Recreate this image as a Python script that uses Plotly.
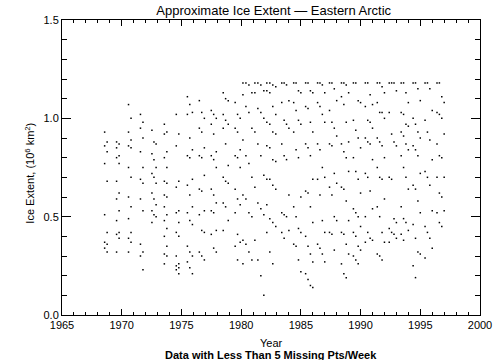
import plotly.graph_objects as go

# ---------------- data ----------------
years = list(range(1968, 1997))

# weekly ice-extent samples per year (10^6 km^2)
v1968 = [0.93, 0.88, 0.86, 0.83, 0.77, 0.68, 0.51, 0.42, 0.37, 0.36, 0.34, 0.32]
v1969 = [0.88, 0.87, 0.85, 0.81, 0.80, 0.77, 0.68, 0.62, 0.59, 0.53, 0.48, 0.42, 0.41, 0.39, 0.32]
v1970 = [1.07, 1.00, 0.93, 0.89, 0.86, 0.85, 0.75, 0.70, 0.60, 0.55, 0.49, 0.42, 0.39, 0.37, 0.32]
v1971 = [1.02, 0.98, 0.95, 0.90, 0.83, 0.75, 0.69, 0.67, 0.59, 0.53, 0.36, 0.32, 0.30, 0.23]
v1972 = [0.94, 0.88, 0.87, 0.82, 0.79, 0.75, 0.72, 0.70, 0.67, 0.62, 0.59, 0.56, 0.53, 0.51, 0.50, 0.47]
v1973 = [0.97, 0.93, 0.92, 0.83, 0.80, 0.75, 0.68, 0.67, 0.61, 0.60, 0.55, 0.51, 0.48, 0.44, 0.40, 0.35, 0.31, 0.30, 0.26]
v1974 = [1.02, 0.92, 0.86, 0.68, 0.65, 0.53, 0.52, 0.47, 0.42, 0.40, 0.30, 0.26, 0.25, 0.24, 0.23, 0.21]
v1975 = [1.11, 1.07, 1.03, 1.02, 0.90, 0.84, 0.81, 0.80, 0.69, 0.66, 0.61, 0.55, 0.52, 0.48, 0.46, 0.35, 0.32, 0.30, 0.27, 0.24, 0.21]
v1976 = [1.09, 1.03, 1.00, 0.95, 0.93, 0.85, 0.81, 0.80, 0.71, 0.64, 0.63, 0.53, 0.51, 0.43, 0.42, 0.32, 0.30, 0.28]
v1977 = [1.04, 1.02, 1.00, 0.97, 0.92, 0.83, 0.81, 0.79, 0.75, 0.64, 0.61, 0.57, 0.53, 0.52, 0.43, 0.41, 0.34, 0.32]
v1978 = [1.13, 1.10, 1.09, 1.02, 0.99, 0.97, 0.95, 0.87, 0.76, 0.70, 0.68, 0.67, 0.57, 0.55, 0.48, 0.43]
v1979 = [1.08, 1.02, 1.00, 0.95, 0.93, 0.84, 0.81, 0.80, 0.75, 0.64, 0.59, 0.56, 0.52, 0.41, 0.37, 0.35, 0.28]
v1980 = [1.18, 1.18, 1.17, 1.13, 1.12, 1.06, 1.03, 0.95, 0.89, 0.81, 0.77, 0.70, 0.61, 0.59, 0.52, 0.50, 0.38, 0.36, 0.32, 0.28, 0.26]
v1981 = [1.18, 1.18, 1.17, 1.14, 1.13, 1.05, 1.03, 1.00, 0.93, 0.87, 0.81, 0.71, 0.65, 0.57, 0.54, 0.51, 0.38, 0.28, 0.20, 0.10]
v1982 = [1.18, 1.18, 1.17, 1.16, 1.14, 1.13, 1.06, 1.02, 0.98, 0.97, 0.93, 0.92, 0.86, 0.85, 0.79, 0.78, 0.69, 0.69, 0.66, 0.64, 0.56, 0.49, 0.47, 0.45, 0.42, 0.32, 0.26]
v1983 = [1.18, 1.18, 1.17, 1.09, 1.08, 0.99, 0.97, 0.95, 0.87, 0.81, 0.79, 0.61, 0.52, 0.51, 0.50, 0.43, 0.42, 0.39]
v1984 = [1.18, 1.18, 1.14, 1.13, 1.08, 1.04, 0.99, 0.97, 0.93, 0.84, 0.80, 0.60, 0.55, 0.50, 0.44, 0.42, 0.36, 0.35, 0.28, 0.22]
v1985 = [1.18, 1.18, 1.14, 1.13, 1.06, 1.05, 0.98, 0.93, 0.87, 0.85, 0.81, 0.69, 0.63, 0.62, 0.55, 0.47, 0.40, 0.35, 0.31, 0.27, 0.21, 0.18, 0.15, 0.14]
v1986 = [1.18, 1.18, 1.17, 1.13, 1.08, 1.06, 1.02, 0.98, 0.87, 0.84, 0.75, 0.70, 0.69, 0.61, 0.48, 0.42, 0.36, 0.34, 0.31, 0.27]
v1987 = [1.18, 1.18, 1.15, 1.09, 1.04, 0.98, 0.95, 0.91, 0.87, 0.86, 0.72, 0.67, 0.65, 0.61, 0.50, 0.48, 0.42, 0.41, 0.33]
v1988 = [1.18, 1.18, 1.17, 1.13, 1.11, 1.07, 0.98, 0.88, 0.87, 0.83, 0.80, 0.73, 0.65, 0.64, 0.58, 0.48, 0.42, 0.41, 0.36, 0.31, 0.26, 0.21, 0.19]
v1989 = [1.18, 1.18, 1.09, 1.08, 0.99, 0.94, 0.90, 0.85, 0.80, 0.73, 0.69, 0.62, 0.54, 0.52, 0.50, 0.45, 0.42, 0.40, 0.35, 0.33, 0.30, 0.28, 0.26]
v1990 = [1.18, 1.18, 1.12, 1.07, 1.06, 0.99, 0.98, 0.95, 0.90, 0.88, 0.87, 0.79, 0.72, 0.70, 0.63, 0.54, 0.50, 0.42, 0.39, 0.38, 0.37]
v1991 = [1.18, 1.18, 1.16, 1.13, 1.08, 1.03, 1.03, 1.00, 0.90, 0.88, 0.86, 0.80, 0.75, 0.70, 0.69, 0.59, 0.55, 0.50, 0.42, 0.37, 0.31, 0.30, 0.28]
v1992 = [1.18, 1.18, 1.18, 1.14, 1.03, 0.92, 0.88, 0.86, 0.70, 0.69, 0.49, 0.47, 0.44, 0.42, 0.41, 0.39, 0.37]
v1993 = [1.18, 1.18, 1.13, 1.08, 1.03, 1.02, 0.97, 0.96, 0.93, 0.91, 0.87, 0.84, 0.81, 0.75, 0.70, 0.64, 0.55, 0.49, 0.47, 0.43, 0.41, 0.38]
v1994 = [1.18, 1.18, 1.15, 1.09, 1.00, 0.97, 0.93, 0.90, 0.86, 0.84, 0.81, 0.72, 0.66, 0.64, 0.58, 0.52, 0.46, 0.39, 0.32, 0.31, 0.25, 0.19]
v1995 = [1.18, 1.18, 1.15, 1.04, 0.99, 0.93, 0.89, 0.79, 0.73, 0.70, 0.66, 0.53, 0.45, 0.42, 0.39, 0.34, 0.29]
v1996 = [1.18, 1.18, 1.11, 1.08, 1.03, 1.02, 1.00, 0.92, 0.87, 0.81, 0.80, 0.70, 0.70, 0.62, 0.60, 0.53, 0.52, 0.47, 0.45]

values_by_year = [v1968, v1969, v1970, v1971, v1972, v1973, v1974, v1975, v1976, v1977,
                  v1978, v1979, v1980, v1981, v1982, v1983, v1984, v1985, v1986, v1987,
                  v1988, v1989, v1990, v1991, v1992, v1993, v1994, v1995, v1996]

# fractional-year sample columns seen in each year of the picture
cols_early = [0.57, 0.78]
cols_mid = [0.50, 0.70, 0.92]
cols_80s = [0.15, 0.40, 0.65, 0.90]
cols_late = [0.40, 0.60, 0.80, 1.00]
column_offsets = ([cols_early] * 4 + [[0.53, 0.70, 0.88]] + [cols_early] * 2 +
                  [cols_mid] * 5 + [cols_80s] * 3 + [cols_late] * 14)

x_ticks = [1965, 1970, 1975, 1980, 1985, 1990, 1995, 2000]
y_ticks = [0.0, 0.5, 1.0, 1.5]
y_tick_text = ["0.0", "0.5", "1.0", "1.5"]

# ---------------- build point table ----------------
xs, ys = [], []
for yr, vals, offs in zip(years, values_by_year, column_offsets):
    for i, v in enumerate(vals):
        xs.append(yr + offs[i % len(offs)])
        ys.append(v)

FONT = "Liberation Sans, Arial, sans-serif"

fig = go.Figure()
fig.add_trace(go.Scatter(
    x=xs, y=ys, mode="markers",
    marker=dict(symbol="square", size=1.5, color="black", line=dict(width=0)),
    hoverinfo="skip", showlegend=False,
))

fig.update_layout(
    width=504, height=360,
    margin=dict(l=62, r=19, t=20, b=45),
    paper_bgcolor="white", plot_bgcolor="white",
    font=dict(family=FONT, size=11, color="black"),
    title=dict(text="Approximate Ice Extent \u2014 Eastern Arctic", x=0.543, xanchor="center",
               y=0.971, yanchor="middle", font=dict(size=13, family=FONT)),
    showlegend=False,
)

fig.update_xaxes(
    range=[1965, 2000], tickvals=x_ticks, ticktext=[str(t) for t in x_ticks],
    ticks="inside", ticklen=6, tickwidth=1, tickcolor="black",
    showline=True, linecolor="black", linewidth=1, mirror="allticks",
    showgrid=False, zeroline=False,
    minor=dict(ticks="inside", ticklen=3, dtick=1, tick0=1965, tickcolor="black", showgrid=False),
    tickfont=dict(size=11),
)
fig.update_yaxes(
    range=[0, 1.5], tickvals=y_ticks, ticktext=y_tick_text,
    ticks="inside", ticklen=9, tickwidth=1, tickcolor="black",
    showline=True, linecolor="black", linewidth=1, mirror="allticks",
    showgrid=False, zeroline=False,
    minor=dict(ticks="inside", ticklen=5, dtick=0.1, tick0=0, tickcolor="black", showgrid=False),
    tickfont=dict(size=11),
)

fig.add_annotation(text="Year", x=0.5, xref="paper", y=-0.095, yref="paper",
                   yanchor="middle", showarrow=False, font=dict(size=11, family=FONT))
fig.add_annotation(text="<b>Data with Less Than 5 Missing Pts/Week</b>", x=0.5, xref="paper",
                   y=-0.136, yref="paper", yanchor="middle", showarrow=False,
                   font=dict(size=11, family=FONT))
fig.add_annotation(text="Ice Extent, (10<sup>6</sup> km<sup>2</sup>)", textangle=-90,
                   x=-0.076, xref="paper", xanchor="center", y=0.48, yref="paper",
                   yanchor="middle", showarrow=False, font=dict(size=11, family=FONT))

fig.write_html("out.html", config={"displayModeBar": False},
               post_script="document.body.style.margin='0';")
